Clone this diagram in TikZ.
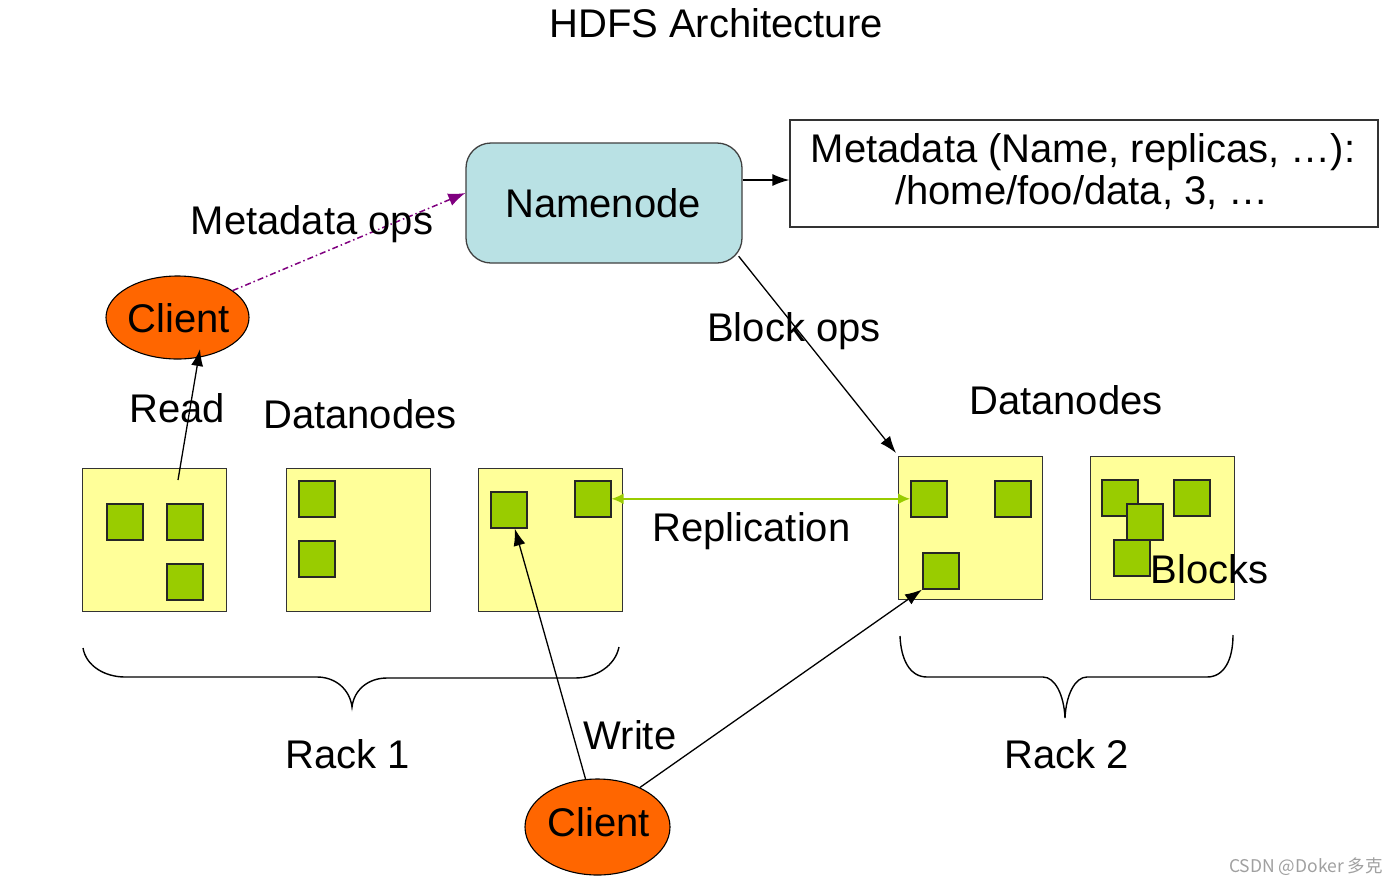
\documentclass[tikz,border=0pt]{standalone}
\usepackage{fontspec}
\setmainfont{Liberation Sans}
\newfontfamily\cjkfont{Noto Sans CJK SC}
\usetikzlibrary{arrows.meta,shapes.geometric}
\definecolor{nnblue}{RGB}{185,225,228}
\definecolor{clientorange}{RGB}{255,102,0}
\definecolor{dnyellow}{RGB}{255,255,153}
\definecolor{blkgreen}{RGB}{153,204,0}
\definecolor{opspurple}{RGB}{128,0,128}
\definecolor{repgreen}{RGB}{153,204,0}
\definecolor{wmgray}{RGB}{160,160,160}
\begin{document}
\begin{tikzpicture}[x=1pt,y=-1pt,
  lbl/.style={anchor=base,inner sep=0pt,font=\fontsize{40}{48}\selectfont},
  dnbox/.style={draw=black!80,line width=1.4pt,fill=dnyellow,minimum width=144pt,minimum height=143pt,inner sep=0pt,anchor=north west},
  blk/.style={draw=black!85,line width=1.6pt,fill=blkgreen,minimum size=36pt,inner sep=0pt,anchor=north west},
  clientshape/.style={ellipse,draw=black,line width=1.1pt,fill=clientorange,inner sep=0pt},
  arr/.style={draw=black,line width=1.3pt,-{Latex[length=17pt,width=12pt]}},
  opsline/.style={draw=opspurple,line width=1.5pt,dash pattern=on 6pt off 3pt on 1.5pt off 3pt,-{Latex[length=17pt,width=13pt]}},
  repline/.style={draw=repgreen,line width=1.6pt,{Latex[length=12pt,width=11pt]}-{Latex[length=12pt,width=11pt]}},
  bracepath/.style={draw=black,line width=1.4pt}
]
\useasboundingbox (0,0) rectangle (1397,884);
\fill[white] (0,0) rectangle (1397,884);

% title
\node[lbl] (title) at (716,37) {HDFS Architecture};

% namenode and metadata
\node[draw=black!75,line width=1.3pt,fill=nnblue,rounded corners=25pt,minimum width=276pt,minimum height=120pt,inner sep=0pt] (nn) at (604,203) {};
\node[lbl] (nnlbl) at (603,217) {Namenode};
\node[draw=black!80,line width=1.3pt,fill=white,minimum width=588pt,minimum height=107pt,inner sep=0pt] (meta) at (1084,173.5) {};
\node[lbl] (meta1) at (1083,162) {Metadata (Name, replicas, …):};
\node[lbl] (meta2) at (1082,204) {/home/foo/data, 3, …};

% datanodes
\node[dnbox] (d1) at (82,468) {};
\node[dnbox] (d2) at (286,468) {};
\node[dnbox] (d3) at (478,468) {};
\node[dnbox] (d4) at (898,456) {};
\node[dnbox] (d5) at (1090,456) {};

% blocks
\node[blk] (b1a) at (106,503) {};
\node[blk] (b1b) at (166,503) {};
\node[blk] (b1c) at (166,563) {};
\node[blk] (b2a) at (298,480) {};
\node[blk] (b2b) at (298,540) {};
\node[blk] (b3a) at (490,491) {};
\node[blk] (b3b) at (574,480) {};
\node[blk] (b4a) at (910,480) {};
\node[blk] (b4b) at (994,480) {};
\node[blk] (b4c) at (922,552) {};
\node[blk] (b5a) at (1101,479) {};
\node[blk] (b5d) at (1173,479) {};
\node[blk] (b5b) at (1126,503) {};
\node[blk] (b5c) at (1113,539) {};

% clients
\node[clientshape,minimum width=143pt,minimum height=83pt] (c1) at (177.5,317.5) {};
\node[lbl] (c1lbl) at (179,332) {Client};
\node[clientshape,minimum width=145pt,minimum height=96pt] (c2) at (597.5,827) {};
\node[lbl] (c2lbl) at (599,836) {Client};

% braces
\draw[bracepath] (83,648) .. controls (86,666) and (105,677) .. (125,677) -- (317,677)
  .. controls (336,677) and (350,690) .. (352,707)
  .. controls (354,690) and (368,678) .. (387,678) -- (575,678)
  .. controls (596,678) and (615,666) .. (619,647);
\draw[bracepath] (900,636) .. controls (901,660) and (910,677) .. (927,677) -- (1043,677)
  .. controls (1055,677) and (1064,695) .. (1065,718)
  .. controls (1066,695) and (1075,677) .. (1087,677) -- (1207,677)
  .. controls (1224,677) and (1233,660) .. (1233,635);

% connectors
\coordinate (rdstart) at (178,480);
\coordinate (rdend) at (200,349);
\draw[arr] (rdstart) -- (rdend);
\draw[arr] (nn.east |- 0,180) -- (meta.west |- 0,180);
\draw[opsline] (c1.26) -- ([yshift=10pt]nn.west);
\draw[arr] ([xshift=-4pt]nn.-21) -- ([xshift=-2pt,yshift=3pt]d4.north west);
\draw[repline] (b3b.east) -- (b4a.west);
\draw[arr] (c2.104) -- ([xshift=6pt]b3a.south);
\draw[arr] (c2.43) -- (b4c.south west);

% labels
\node[lbl] (mops) at (312,234) {Metadata ops};
\node[lbl] (bops) at (794,341) {Block ops};
\node[lbl] (read) at (177,422) {Read};
\node[lbl] (dnl) at (360,428) {Datanodes};
\node[lbl] (dnr) at (1066,414) {Datanodes};
\node[lbl] (repl) at (751.5,541) {Replication};
\node[lbl] (blocks) at (1209.5,583) {Blocks};
\node[lbl] (rack1) at (347.5,768) {Rack 1};
\node[lbl] (rack2) at (1066.5,768) {Rack 2};
\node[lbl] (write) at (630,749) {Write};
\node[anchor=base,inner sep=0pt,text=wmgray,font=\cjkfont\fontsize{17.5}{21}\selectfont] (wm) at (1306,872) {CSDN @Doker 多克};
\end{tikzpicture}
\end{document}
